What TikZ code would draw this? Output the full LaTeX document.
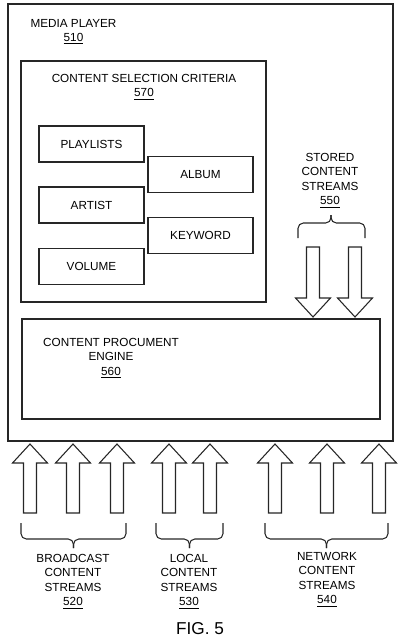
\documentclass[tikz,border=0pt]{standalone}
\usepackage{fontspec}
\setmainfont{Liberation Sans}
\usetikzlibrary{fit}

\begin{document}
\begin{tikzpicture}[x=0.75pt,y=-0.75pt,
  box/.style={draw=black!85,line width=1pt},
  critbox/.style={box,minimum width=78.75pt,minimum height=27pt,inner sep=0pt,font=\fontsize{8.8}{10.9}\selectfont},
  lbl/.style={align=center,inner sep=0pt,anchor=north,font=\fontsize{8.8}{10.9}\selectfont}]
\tikzstyle{blockarrow} = [draw=black!85, line width=0.8pt, fill=white, line join=miter]
\tikzstyle{curly} = [draw=black!85, line width=0.8pt, rounded corners=4pt]

\useasboundingbox (0,0) rectangle (400,642);

% media player and its parts
\node[box,fit={(8,4) (393,441)},inner sep=0pt] (player) {};
\node[lbl] (playerlbl) at (73.5,18.8) {MEDIA PLAYER\\\underline{510}};
\node[box,fit={(21,61) (266,302)},inner sep=0pt] (criteria) {};
\node[lbl] (criterialbl) at (144,73.8) {CONTENT SELECTION CRITERIA\\\underline{570}};
\node[critbox] (playlists) at (91.5,144) {PLAYLISTS};
\node[critbox] (album) at (200.5,174.5) {ALBUM};
\node[critbox] (artist) at (91.5,205) {ARTIST};
\node[critbox] (keyword) at (200.5,235.5) {KEYWORD};
\node[critbox] (volume) at (91.5,266.5) {VOLUME};
\node[box,fit={(22,319) (380,419)},inner sep=0pt] (engine) {};
\node[lbl] (enginelbl) at (111,337.8) {CONTENT PROCUMENT\\ENGINE\\\underline{560}};

% stored streams
\node[lbl] (stored) at (330,152.8) {STORED\\CONTENT\\STREAMS\\\underline{550}};
\draw[curly] (298,238) -- (298,223) -- (331,223) -- (331,215);
\draw[curly] (365,238) -- (365,223) -- (331,223) -- (331,215);
\foreach \x in {313,355}
  \draw[blockarrow] ({\x-6.5},247) -- ({\x-6.5},298) -- ({\x-17.5},298) -- (\x,317)
    -- ({\x+17.5},298) -- ({\x+6.5},298) -- ({\x+6.5},247) -- cycle;

% incoming streams
\foreach \x in {30,73,117,169,210,275,327,379}
  \draw[blockarrow] ({\x-6.5},513) -- ({\x-6.5},463) -- ({\x-17.5},463) -- (\x,444)
    -- ({\x+17.5},463) -- ({\x+6.5},463) -- ({\x+6.5},513) -- cycle;
\foreach \a/\m/\b in {21/73.5/126, 156/189.5/223, 265/326.5/388} {
  \draw[curly] (\a,523) -- (\a,539) -- (\m,539) -- (\m,548);
  \draw[curly] (\b,523) -- (\b,539) -- (\m,539) -- (\m,548);
}
\node[lbl] (broadcast) at (73,553.8) {BROADCAST\\CONTENT\\STREAMS\\\underline{520}};
\node[lbl] (local) at (189,553.8) {LOCAL\\CONTENT\\STREAMS\\\underline{530}};
\node[lbl] (network) at (327,551.8) {NETWORK\\CONTENT\\STREAMS\\\underline{540}};

\node[font=\fontsize{12.9}{15}\selectfont] (fig) at (200,629) {FIG. 5};

\end{tikzpicture}
\end{document}
